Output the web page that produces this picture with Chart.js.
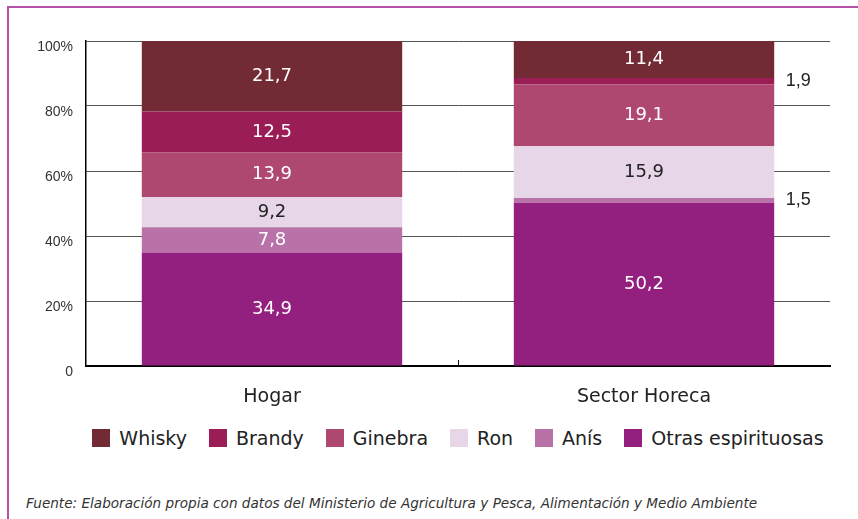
<!DOCTYPE html>
<html lang="es">
<head>
<meta charset="utf-8">
<title>Consumo de bebidas espirituosas</title>
<script src="https://cdn.jsdelivr.net/npm/chart.js@4/dist/chart.umd.min.js"></script>
<style>
    html, body { margin: 0; padding: 0; background: #fff; }
    .frame {
        position: absolute; left: 7px; top: 6px; width: 851px; height: 513px;
        border-left: 2px solid #b552a8; border-top: 2px solid #b552a8;
        box-sizing: border-box;
    }
    .chart-box { position: absolute; left: 0; top: 0; width: 858px; height: 412px; }
    #legend {
        position: absolute; left: 86px; top: 427px; width: 744px;
        display: flex; justify-content: center; gap: 22px;
        font-family: "DejaVu Sans", sans-serif; font-size: 19px; color: #222;
    }
    #legend .item { display: flex; align-items: center; }
    #legend .box { width: 18px; height: 18px; margin-right: 9px; }
    .source {
        position: absolute; left: 26px; top: 495px;
        font-family: "DejaVu Sans", sans-serif; font-style: italic; font-size: 13.6px; color: #333;
    }
</style>
</head>
<body>
<div class="frame"></div>
<div class="chart-box"><canvas id="stackChart" width="858" height="412"></canvas></div>
<div id="legend"></div>
<div class="source">Fuente: Elaboración propia con datos del Ministerio de Agricultura y Pesca, Alimentación y Medio Ambiente</div>
<script>
    const categories = ['Hogar', 'Sector Horeca'];
    const seriesNames = ['Otras espirituosas', 'Anís', 'Ron', 'Ginebra', 'Brandy', 'Whisky'];
    const otras = [34.9, 50.2];
    const anis = [7.8, 1.5];
    const ron = [9.2, 15.9];
    const ginebra = [13.9, 19.1];
    const brandy = [12.5, 1.9];
    const whisky = [21.7, 11.4];
    const yTicks = [0, 20, 40, 60, 80, 100];

    const seriesValues = [otras, anis, ron, ginebra, brandy, whisky];
    const colors = ['#93207e', '#b872a7', '#e7d5e8', '#ae4870', '#9b1d55', '#722a35'];
    const labelColors = ['#fff', '#fff', '#222', '#fff', '#fff', '#fff'];

    const fmt = v => v.toFixed(1).replace('.', ',');

    // etiquetas de valor dentro de cada tramo (fuera si el tramo es muy pequeño)
    const valueLabels = {
        id: 'valueLabels',
        afterDatasetsDraw(chart) {
            const ctx = chart.ctx;
            ctx.save();
            ctx.textAlign = 'center';
            ctx.textBaseline = 'middle';
            chart.data.datasets.forEach((ds, i) => {
                const meta = chart.getDatasetMeta(i);
                meta.data.forEach((bar, j) => {
                    const v = ds.data[j];
                    const yMid = (bar.y + bar.base) / 2;
                    if (v < 3) {
                        ctx.font = '18px "Liberation Sans", Arial, sans-serif';
                        ctx.fillStyle = '#222';
                        ctx.fillText(fmt(v), bar.x + bar.width / 2 + 24, yMid);
                    } else {
                        ctx.font = '18px "DejaVu Sans", sans-serif';
                        ctx.fillStyle = labelColors[i];
                        ctx.fillText(fmt(v), bar.x, yMid);
                    }
                });
            });
            ctx.restore();
        }
    };

    // pequeña marca entre categorías en el eje X
    const categoryTick = {
        id: 'categoryTick',
        afterDraw(chart) {
            const x = chart.scales.x;
            const ctx = chart.ctx;
            const px = (x.getPixelForValue(0) + x.getPixelForValue(1)) / 2;
            ctx.save();
            ctx.strokeStyle = '#000';
            ctx.lineWidth = 1;
            ctx.beginPath();
            ctx.moveTo(Math.round(px) + 0.5, x.top);
            ctx.lineTo(Math.round(px) + 0.5, x.top - 6);
            ctx.stroke();
            ctx.restore();
        }
    };

    new Chart(document.getElementById('stackChart'), {
        type: 'bar',
        data: {
            labels: categories,
            datasets: seriesNames.map((name, i) => ({
                label: name,
                data: seriesValues[i],
                backgroundColor: colors[i],
                borderWidth: 0,
                barPercentage: 0.7,
                categoryPercentage: 1
            }))
        },
        options: {
            responsive: false,
            animation: false,
            layout: { padding: { top: 41, right: 28, left: 0, bottom: 0 } },
            plugins: {
                legend: { display: false },
                tooltip: { enabled: false }
            },
            scales: {
                x: {
                    stacked: true,
                    grid: { display: false, drawTicks: false },
                    border: { color: '#000', width: 2 },
                    ticks: {
                        color: '#222',
                        padding: 20,
                        font: { family: '"DejaVu Sans", sans-serif', size: 19 }
                    },
                    afterFit: s => { s.height = 46; }
                },
                y: {
                    stacked: true,
                    min: 0,
                    max: 100,
                    afterBuildTicks: s => { s.ticks = yTicks.map(v => ({ value: v })); },
                    grid: { color: '#555', lineWidth: 1, drawTicks: false },
                    border: { color: '#000', width: 1.5 },
                    ticks: {
                        color: '#333',
                        padding: 13,
                        labelOffset: 6,
                        font: { family: '"Liberation Sans", Arial, sans-serif', size: 14 },
                        callback: v => v === 0 ? '0' : v + '%'
                    },
                    afterFit: s => { s.width = 86; }
                }
            }
        },
        plugins: [valueLabels, categoryTick]
    });

    // leyenda en HTML, en el orden del original
    const legend = document.getElementById('legend');
    [5, 4, 3, 2, 1, 0].forEach(i => {
        const item = document.createElement('div');
        item.className = 'item';
        item.innerHTML = '<span class="box" style="background:' + colors[i] + '"></span><span>' + seriesNames[i] + '</span>';
        legend.appendChild(item);
    });
</script>
</body>
</html>
